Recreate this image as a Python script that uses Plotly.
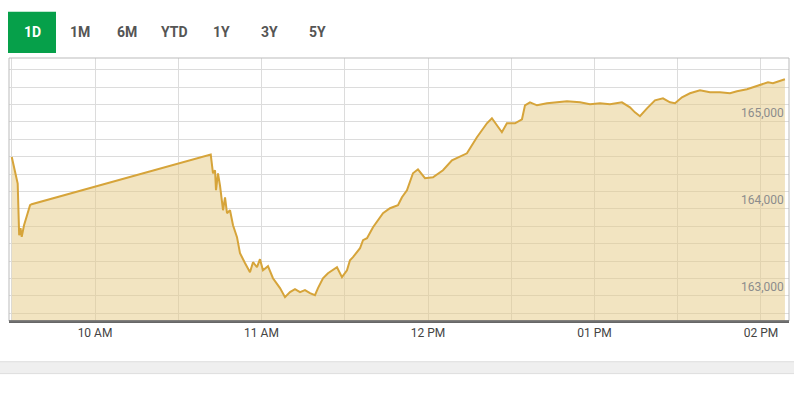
import plotly.graph_objects as go

day = "2024-01-15 "
times = [
    "09:30:00", "09:32:08", "09:32:40", "09:33:10", "09:33:35", "09:34:25", "09:35:30", "09:36:15", "09:36:35", "09:37:10",
    "10:41:42", "10:42:31", "10:43:15", "10:43:36", "10:44:19", "10:45:02", "10:46:08", "10:46:51", "10:47:34", "10:48:39",
    "10:49:44", "10:51:10", "10:52:15", "10:54:05", "10:55:51", "10:56:56", "10:58:22", "10:59:27", "11:00:32", "11:02:20",
    "11:04:08", "11:06:40", "11:08:28", "11:10:16", "11:12:04", "11:13:52", "11:15:40", "11:17:28", "11:19:16", "11:20:21",
    "11:22:09", "11:23:57", "11:25:45", "11:27:12", "11:29:00", "11:30:48", "11:31:53", "11:32:58", "11:35:30", "11:36:35",
    "11:38:01", "11:40:11", "11:43:47", "11:46:18", "11:49:11", "11:50:37", "11:52:25", "11:54:35", "11:56:23", "11:58:55",
    "12:01:48", "12:05:24", "12:08:38", "12:12:14", "12:14:02", "12:17:38", "12:21:14", "12:23:02", "12:24:50", "12:26:38",
    "12:28:26", "12:31:21", "12:33:52", "12:34:57", "12:36:45", "12:39:17", "12:42:53", "12:46:29", "12:50:05", "12:54:47",
    "12:58:23", "13:01:59", "13:05:35", "13:09:54", "13:12:47", "13:14:35", "13:16:23", "13:18:55", "13:21:48", "13:24:41",
    "13:27:13", "13:29:01", "13:31:32", "13:34:25", "13:38:01", "13:41:37", "13:45:13", "13:48:50", "13:51:21", "13:54:57",
    "13:58:33", "14:02:31", "14:04:19", "14:06:50", "14:08:38",
]
values = [
    164498, 164192, 163598, 163678, 163578, 163713, 163828, 163908, 163943, 163954,
    164525, 164310, 164345, 164115, 164310, 164172, 163885, 164034, 163851, 163885,
    163713, 163575, 163391, 163276, 163172, 163287, 163230, 163322, 163195, 163241,
    163103, 162989, 162885, 162943, 162977, 162943, 162966, 162931, 162908, 162989,
    163103, 163161, 163195, 163230, 163115, 163195, 163310, 163345, 163448, 163540,
    163563, 163690, 163851, 163908, 163943, 164034, 164115, 164310, 164356, 164253,
    164264, 164345, 164460, 164517, 164540, 164724, 164885, 164943, 164862, 164782,
    164885, 164885, 164931, 165092, 165126, 165092, 165115, 165126, 165138, 165126,
    165103, 165115, 165103, 165126, 165069, 165011, 164966, 165057, 165149, 165172,
    165126, 165115, 165184, 165230, 165264, 165241, 165241, 165230, 165253, 165276,
    165310, 165356, 165345, 165368, 165391,
]
x_ticks = ["10:00", "11:00", "12:00", "13:00", "14:00"]
x_tick_labels = ["10 AM", "11 AM", "12 PM", "01 PM", "02 PM"]
y_ticks = [163000, 164000, 165000]
y_tick_labels = ["163,000", "164,000", "165,000"]
range_buttons = ["1D", "1M", "6M", "YTD", "1Y", "3Y", "5Y"]

xs = [day + t for t in times]

fig = go.Figure()
fig.add_trace(go.Scatter(
    x=xs, y=values, mode="lines",
    line=dict(color="#D6A43A", width=2),
    fill="tozeroy", fillcolor="rgba(230,204,138,0.53)",
    hoverinfo="skip",
))

font_main = "Roboto, sans-serif"

fig.update_layout(
    width=794, height=407,
    margin=dict(l=9, r=5, t=58, b=86),
    paper_bgcolor="white", plot_bgcolor="white",
    showlegend=False,
    xaxis=dict(
        range=[day + "09:29:00", day + "14:10:06"],
        tickvals=[day + t for t in x_ticks],
        ticktext=x_tick_labels,
        showgrid=True, gridcolor="#dcdcdc", gridwidth=1,
        minor=dict(dtick=30 * 60 * 1000, tick0=day + "09:30", showgrid=True, gridcolor="#dcdcdc", gridwidth=1),
        showline=True, linecolor="#666666", linewidth=1.5,
        mirror=False, ticks="", zeroline=False,
        tickfont=dict(family=font_main, size=12, color="#444444"),
        ticklabeloverflow="allow",
        fixedrange=True,
    ),
    yaxis=dict(
        range=[162611, 165636],
        tickvals=y_ticks, showticklabels=False,
        showgrid=False,
        minor=dict(tick0=162900, dtick=200, showgrid=True, gridcolor="#dcdcdc", gridwidth=1),
        showline=False, zeroline=False, ticks="",
        fixedrange=True,
    ),
)

# y tick labels drawn inside the plot, right aligned
for v, lab in zip(y_ticks, y_tick_labels):
    fig.add_annotation(
        xref="paper", yref="y", x=1, y=v, text=lab, showarrow=False,
        xanchor="right", yanchor="middle", xshift=-3,
        font=dict(family=font_main, size=12, color="#8c8c8c"),
    )

# plot frame
fig.add_shape(type="rect", xref="paper", yref="paper", x0=0, x1=1, y0=0, y1=1,
              line=dict(color="#bbbbbb", width=1), fillcolor="rgba(0,0,0,0)", layer="above")
fig.add_shape(type="line", xref="paper", yref="paper", x0=0, x1=1, y0=0, y1=0,
              line=dict(color="#666666", width=1.5), layer="above")
# grey band at bottom of the widget
fig.add_shape(type="rect", xref="paper", yref="paper", x0=-0.02, x1=1.02, y0=-0.155, y1=-0.2,
              line=dict(color="#dddddd", width=1), fillcolor="#efefef", layer="above")

# range selector buttons
btn_x = [32, 80, 127, 174, 222, 269, 317]
fig.add_shape(type="rect", xref="paper", yref="paper",
              x0=(8 - 9) / 780, x1=(56 - 9) / 780,
              y0=(320 - 53) / 262, y1=(320 - 12) / 262,
              fillcolor="#06A04A", line=dict(width=0), layer="above")
for i, (lab, px) in enumerate(zip(range_buttons, btn_x)):
    fig.add_annotation(
        xref="paper", yref="paper", x=(px - 9) / 780, y=(320 - 32) / 262,
        text="<b>" + lab + "</b>", showarrow=False, xanchor="center", yanchor="middle",
        font=dict(family=font_main, size=14, color="white" if i == 0 else "#555555"),
    )

fig.write_html("out.html", config={"displayModeBar": False},
               post_script="document.body.style.margin='0';document.body.style.padding='0';")
